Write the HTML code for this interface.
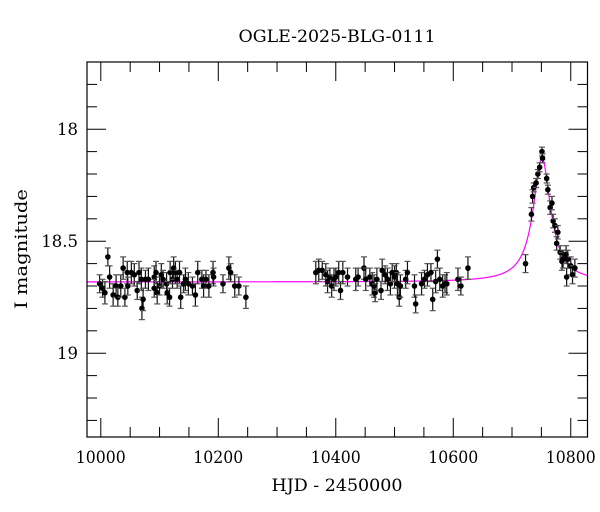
<!DOCTYPE html>
<html><head><meta charset="utf-8"><style>
html,body{margin:0;padding:0;background:#fff;}
svg{display:block;font-family:"DejaVu Serif","Liberation Serif",serif;}
</style></head><body>
<svg id="chart" width="600" height="512" viewBox="0 0 600 512" xmlns="http://www.w3.org/2000/svg">
<text x="337" y="42" font-size="16.5" text-anchor="middle" textLength="197" lengthAdjust="spacingAndGlyphs">OGLE-2025-BLG-0111</text>
<text x="337" y="491" font-size="16.5" text-anchor="middle" textLength="131" lengthAdjust="spacingAndGlyphs">HJD - 2450000</text>
<text x="0" y="0" font-size="16.5" text-anchor="middle" textLength="120" lengthAdjust="spacingAndGlyphs" transform="translate(27,249) rotate(-90)">I magnitude</text>
<g id="ticks"></g>
<g id="model"></g>
<g id="pts"></g>
<rect x="87" y="62" width="500.5" height="375" fill="none" stroke="#000" stroke-width="1.2"/>
</svg>
<script>
const hjd = [9998,10003,10007,10012,10015,10021,10026,10029,10034,10038,10041,10045,10046,10052,10057,10062,10065,10069,10070,10072,10076,10081,10091,10091,10094,10096,10100,10103,10106,10112,10113,10117,10118,10122,10124,10127,10130,10134,10136,10141,10144,10149,10156,10161,10165,10172,10175,10179,10184,10191,10192,10208,10218,10221,10228,10235,10247,
10366,10371,10377,10383,10386,10390,10393,10397,10400,10405,10408,10412,10420,10434,10438,10448,10451,10458,10462,10465,10467,10470,10477,10479,10484,10488,10493,10496,10500,10503,10505,10508,10510,10519,10522,10534,10536,10546,10551,10556,10562,10565,10570,10573,10577,10582,10586,10589,10608,10613,10625,
10723,10733,10735,10737,10741,10744,10747,10751,10752,10759,10761,10765,10768,10770,10773,10776,10778,10782,10785,10787,10792,10793,10795,10800,10803,10807];
const mag = [18.69,18.71,18.73,18.57,18.66,18.74,18.70,18.75,18.70,18.62,18.75,18.64,18.70,18.64,18.65,18.72,18.64,18.67,18.80,18.76,18.67,18.67,18.66,18.71,18.64,18.73,18.70,18.65,18.67,18.69,18.73,18.75,18.64,18.67,18.62,18.64,18.67,18.64,18.75,18.69,18.67,18.69,18.70,18.74,18.64,18.67,18.70,18.67,18.70,18.64,18.66,18.69,18.62,18.64,18.70,18.70,18.75,
18.64,18.63,18.63,18.65,18.68,18.66,18.70,18.67,18.66,18.64,18.72,18.64,18.66,18.67,18.66,18.62,18.67,18.66,18.69,18.70,18.73,18.67,18.72,18.63,18.65,18.67,18.69,18.64,18.66,18.64,18.69,18.75,18.70,18.67,18.64,18.70,18.78,18.69,18.67,18.65,18.64,18.76,18.68,18.58,18.67,18.70,18.69,18.69,18.67,18.70,18.62,
18.60,18.38,18.30,18.26,18.24,18.20,18.17,18.10,18.13,18.22,18.27,18.35,18.33,18.41,18.43,18.51,18.46,18.55,18.59,18.58,18.56,18.66,18.58,18.61,18.65,18.62];
const err = [0.04,0.04,0.05,0.04,0.05,0.05,0.05,0.04,0.05,0.05,0.04,0.05,0.04,0.05,0.05,0.04,0.05,0.05,0.05,0.05,0.04,0.05,0.05,0.04,0.05,0.05,0.04,0.05,0.04,0.05,0.05,0.04,0.05,0.04,0.05,0.05,0.04,0.05,0.05,0.04,0.05,0.05,0.04,0.05,0.05,0.04,0.05,0.04,0.05,0.05,0.04,0.04,0.05,0.04,0.05,0.04,0.05,
0.05,0.05,0.04,0.05,0.05,0.04,0.05,0.05,0.04,0.05,0.04,0.05,0.04,0.05,0.04,0.05,0.05,0.04,0.05,0.05,0.04,0.05,0.04,0.05,0.04,0.05,0.05,0.04,0.05,0.04,0.05,0.04,0.05,0.04,0.05,0.05,0.04,0.05,0.04,0.05,0.04,0.05,0.05,0.04,0.05,0.05,0.04,0.05,0.05,0.04,0.05,
0.04,0.03,0.03,0.02,0.02,0.02,0.02,0.02,0.02,0.02,0.02,0.03,0.03,0.03,0.03,0.03,0.03,0.03,0.04,0.04,0.04,0.04,0.04,0.04,0.04,0.04];
const xTicks = [10000,10200,10400,10600,10800];
const yTicks = [18,18.5,19];
const modelBase = [18.682];
const modelPeak = [18.13];
const modelT0 = [10751];
const modelWidth = [16];

const NS='http://www.w3.org/2000/svg';
const X0=87,X1=587.5,Y0=62,Y1=437;
const xd=[9976.5,10828.5], yd=[17.70,19.374];
const sx=v=>X0+(v-xd[0])/(xd[1]-xd[0])*(X1-X0);
const sy=v=>Y0+(v-yd[0])/(yd[1]-yd[0])*(Y1-Y0);
function mk(t,a,p){const e=document.createElementNS(NS,t);for(const k in a)e.setAttribute(k,a[k]);p.appendChild(e);return e;}

const tg=document.getElementById('ticks');
for(let v=9950;v<=10850;v+=50){
  if(v<xd[0]||v>xd[1])continue;
  const x=sx(v), major=(v%200===0), L=major?19:10;
  let l=mk('line',{x1:x,x2:x,y1:Y1,y2:Y1-L,stroke:'#000','stroke-width':1},tg);
  
  l=mk('line',{x1:x,x2:x,y1:Y0,y2:Y0+L,stroke:'#000','stroke-width':1},tg);
  
}
xTicks.forEach(v=>{const t=mk('text',{x:sx(v),y:463,'font-size':16.5,'text-anchor':'middle',textLength:50,lengthAdjust:'spacingAndGlyphs'},tg);t.textContent=v;
  });
for(let i=18;i<=193;i++){
  const v=i/10; if(v<yd[0]||v>yd[1])continue;
  const y=sy(v), major=(i%5===0), L=major?19:10;
  let l=mk('line',{x1:X0,x2:X0+L,y1:y,y2:y,stroke:'#000','stroke-width':1},tg);
  
  l=mk('line',{x1:X1,x2:X1-L,y1:y,y2:y,stroke:'#000','stroke-width':1},tg);
  
}
yTicks.forEach(v=>{const t=mk('text',{x:78,y:sy(v)+6,'font-size':16.5,'text-anchor':'end'},tg);t.textContent=v;
  });

const amp=Math.pow(10,(modelBase[0]-modelPeak[0])/2.5)-1;
let d='';
for(let t=xd[0];t<=xd[1];t+=0.5){
  const f=1+amp/(1+Math.pow((t-modelT0[0])/modelWidth[0],2));
  const m=modelBase[0]-2.5*Math.log10(f);
  d+=(d?'L':'M')+sx(t).toFixed(2)+','+sy(m).toFixed(2);
}
const mp=mk('path',{d:d,fill:'none',stroke:'#ff00ff','stroke-width':1.2},document.getElementById('model'));


const pg=document.getElementById('pts');
hjd.forEach((t,i)=>{
  const x=sx(t), y=sy(mag[i]), ya=sy(mag[i]-err[i]), yb=sy(mag[i]+err[i]);
  const g=mk('g',{},pg);
  
  
  mk('line',{x1:x,x2:x,y1:ya,y2:yb,stroke:'#111','stroke-width':1.2},g);
  mk('line',{x1:x-3,x2:x+3,y1:ya,y2:ya,stroke:'#555','stroke-width':1.2},g);
  mk('line',{x1:x-3,x2:x+3,y1:yb,y2:yb,stroke:'#555','stroke-width':1.2},g);
  mk('circle',{cx:x,cy:y,r:2.8,fill:'#000'},g);
});
</script>
</body></html>
